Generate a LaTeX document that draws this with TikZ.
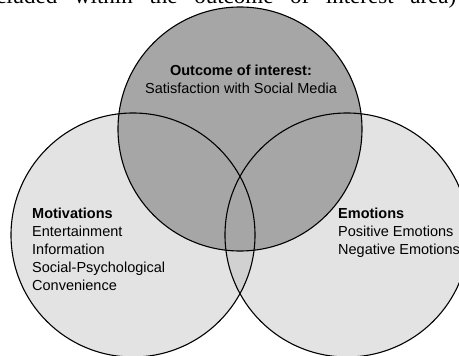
\documentclass[tikz,border=0pt]{standalone}
\usepackage{fontspec}
\setmainfont{Liberation Sans}
\newfontfamily\bodyserif{Liberation Serif}

\tikzset{
	venn/.style={circle, minimum size=244pt, inner sep=0pt, outer sep=0pt},
	vennline/.style={line width=1.1pt},
	vtext/.style={inner sep=0pt, font=\fontsize{14.5}{18}\selectfont},
}

\begin{document}
\begin{tikzpicture}[x=1pt,y=-1pt]
	\useasboundingbox (0,0) rectangle (459,356);
	\clip (0,0) rectangle (459,356);
	% the line of body text cut off above the figure
	\node[inner sep=0pt, anchor=base west, font=\bodyserif\fontsize{23}{26}\selectfont] (cut) at (-22,3)
		{\makebox[478pt][s]{included within the outcome of interest area)}};
	
	% fills
	\node[venn, fill=black!11] (motiv) at (133,235) {};
	\node[venn, fill=black!30, fill opacity=0.36] (emot) at (347,235) {};
	\node[venn, fill=black!35] (outcome) at (240,129) {};
	% outlines on top
	\foreach \c in {motiv,emot,outcome}
		\draw[vennline] (\c.center) circle[radius=122];
	
	% base anchor = baseline of the last line
	\node[vtext, align=center, anchor=base] (outtxt) at (241,93)
		{\textbf{Outcome of interest:}\\Satisfaction with Social Media};
	\node[vtext, align=left, anchor=base west] (motivtxt) at (32,290)
		{\textbf{Motivations}\\Entertainment\\Information\\Social-Psychological\\Convenience};
	\node[vtext, align=left, anchor=base west] (emottxt) at (338,254)
		{\textbf{Emotions}\\Positive Emotions\\Negative Emotions};
\end{tikzpicture}
\end{document}
